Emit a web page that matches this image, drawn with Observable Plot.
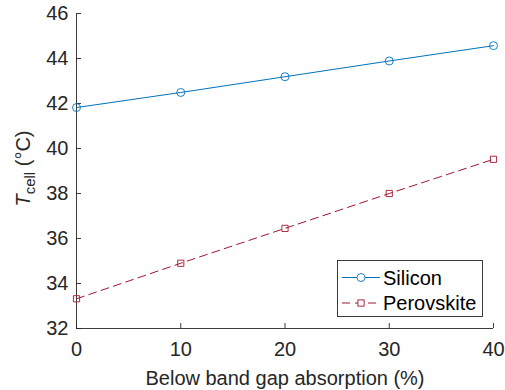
<!DOCTYPE html>
<html>
<head>
<meta charset="utf-8">
<script src="https://cdn.jsdelivr.net/npm/d3@7"></script>
<script src="https://cdn.jsdelivr.net/npm/@observablehq/plot@0.6"></script>
<style>
  body { margin: 0; background: #fff; }
  #chart { position: relative; width: 505px; height: 390px; font-family: "Liberation Sans", Arial, sans-serif; }
  #legend { position: absolute; left: 337px; top: 260px; }
</style>
</head>
<body>
<div id="chart"></div>
<script>
// Cell temperature vs. below-band-gap absorption
const absorption = [0, 10, 20, 30, 40];
const silicon = [41.82, 42.49, 43.19, 43.89, 44.57];
const perovskite = [33.32, 34.90, 36.45, 38.00, 39.52];
const seriesNames = ["Silicon", "Perovskite"];
const xTicks = [0, 10, 20, 30, 40];
const yTicks = [32, 34, 36, 38, 40, 42, 44, 46];
const xLabel = "Below band gap absorption (%)";

const W = 505, H = 390;
const mL = 76, mR = 12, mT = 13, mB = 62;
const frameW = W - mL - mR, frameH = H - mT - mB;
const tickLen = 5;
const ink = "#262626";
const font = '"Liberation Sans", Arial, sans-serif';
const styles = [
  { color: "#0072BD", dash: null, symbol: "circle", r: 4 },
  { color: "#A2142F", dash: "8,5", symbol: "square", r: 3.5 }
];

const series = [silicon, perovskite].map((vals, k) =>
  absorption.map((x, i) => ({ x, t: vals[i], s: seriesNames[k] }))
);

const plot = Plot.plot({
  width: W, height: H,
  marginLeft: mL, marginRight: mR, marginTop: mT, marginBottom: mB,
  style: { fontFamily: font, fontSize: "20px", color: ink, background: "#fff", overflow: "visible" },
  x: { domain: [0, 40] },
  y: { domain: [32, 46] },
  marks: [
    // axis lines
    Plot.ruleX([0], { stroke: ink, strokeWidth: 0.9 }),
    Plot.ruleY([32], { stroke: ink, strokeWidth: 0.9 }),
    // inward ticks
    Plot.tickY(yTicks, { y: d => d, stroke: ink, strokeWidth: 0.9, insetRight: frameW - tickLen }),
    Plot.tickX(xTicks, { x: d => d, stroke: ink, strokeWidth: 0.9, insetTop: frameH - tickLen }),
    // tick labels
    Plot.axisY(yTicks, { tickSize: 0, tickPadding: 8, label: null, fontSize: 20, fill: ink }),
    Plot.axisX(xTicks, { tickSize: 0, tickPadding: 13, label: null, fontSize: 20, fill: ink }),
    Plot.text([xLabel], { frameAnchor: "bottom", lineAnchor: "top", dy: 42, fontSize: 20, fill: ink }),
    // series
    ...series.flatMap((rows, k) => [
      Plot.line(rows, { x: "x", y: "t", stroke: styles[k].color, strokeWidth: 1, strokeDasharray: styles[k].dash }),
      Plot.dot(rows, { x: "x", y: "t", symbol: styles[k].symbol, r: styles[k].r, stroke: styles[k].color, strokeWidth: 0.9, fill: "none" })
    ])
  ]
});

// y-axis title with italic T and subscript
const svg = d3.select(plot);
const yl = svg.append("text")
  .attr("transform", `translate(30,${mT + frameH / 2 - 2}) rotate(-90)`)
  .attr("text-anchor", "middle")
  .attr("fill", ink)
  .style("font-family", font)
  .style("font-size", "20px");
yl.append("tspan").attr("font-style", "italic").text("T");
yl.append("tspan").attr("dy", "5px").style("font-size", "15px").text("cell");
yl.append("tspan").attr("dy", "-5px").text(" (°C)");

const chart = document.getElementById("chart");
chart.appendChild(plot);

// legend box
const lw = 146, lh = 57;
const leg = d3.select(chart).append("svg")
  .attr("id", "legend").attr("width", lw).attr("height", lh);
leg.append("rect").attr("x", 0.5).attr("y", 0.5).attr("width", lw - 1).attr("height", lh - 1)
  .attr("fill", "#fff").attr("stroke", ink).attr("stroke-width", 0.9);
seriesNames.forEach((name, k) => {
  const cy = k === 0 ? 17.5 : 43;
  const st = styles[k];
  leg.append("line").attr("x1", 5).attr("x2", 43).attr("y1", cy).attr("y2", cy)
    .attr("stroke", st.color).attr("stroke-width", 1).attr("stroke-dasharray", st.dash);
  if (st.symbol === "circle") {
    leg.append("circle").attr("cx", 24).attr("cy", cy).attr("r", st.r)
      .attr("fill", "#fff").attr("stroke", st.color).attr("stroke-width", 0.9);
  } else {
    const s = st.r * Math.sqrt(Math.PI);
    leg.append("rect").attr("x", 24 - s / 2).attr("y", cy - s / 2).attr("width", s).attr("height", s)
      .attr("fill", "#fff").attr("stroke", st.color).attr("stroke-width", 0.9);
  }
  leg.append("text").attr("x", 46).attr("y", cy).attr("dy", "0.35em")
    .attr("fill", "#000").style("font-family", font).style("font-size", "20px").text(name);
});
</script>
</body>
</html>
